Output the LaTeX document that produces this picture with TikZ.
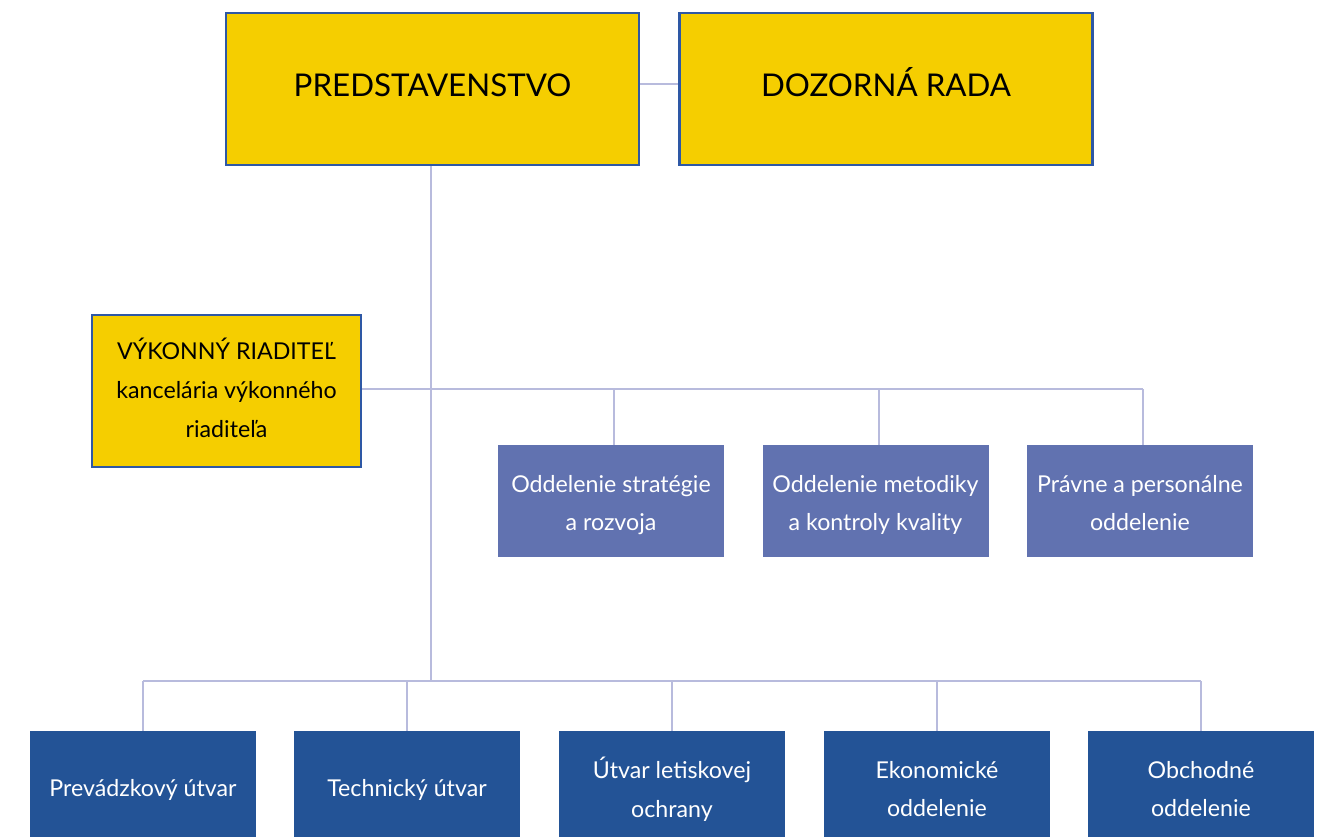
\documentclass[tikz,border=0pt]{standalone}
\usepackage{fontspec}
\setmainfont{Lato}
\definecolor{ylw}{HTML}{F5CE00}
\definecolor{bord}{HTML}{2E58A5}
\definecolor{lnk}{HTML}{B8BBDD}
\definecolor{purp}{HTML}{6172B0}
\definecolor{dblue}{HTML}{235396}
\begin{document}
\begin{tikzpicture}[x=0.75pt,y=-0.75pt,
  topbox/.style={draw=bord,line width=1.6pt,fill=ylw,minimum width=309.75pt,minimum height=114pt,inner sep=0pt},
  execbox/.style={draw=bord,line width=1.6pt,fill=ylw,minimum width=201.75pt,minimum height=114pt,inner sep=0pt},
  midbox/.style={fill=purp,minimum width=169.5pt,minimum height=84pt,inner sep=0pt},
  botbox/.style={fill=dblue,minimum width=169.5pt,minimum height=79.5pt,inner sep=0pt},
  toptext/.style={inner sep=0pt,text height=16.9pt,text depth=0pt,font=\fontsize{23.5}{28}\selectfont},
  blacktext/.style={inner sep=0pt,align=center,font=\fontsize{17.4}{29}\selectfont},
  whitetext/.style={blacktext,text=white},
  link/.style={draw=lnk,line width=1.8pt}]
\useasboundingbox (0,0) rectangle (1325,837);
\node[topbox] (pred) at (432.5,89) {};
\node[toptext] (predt) at (432.5,85) {PREDSTAVENSTVO};
\node[topbox] (dozor) at (886,89) {};
\node[toptext] (dozort) at (886,85) {DOZORNÁ RADA};
\node[execbox] (vyk) at (226.5,391) {};
\node[blacktext] (vykt) at (226.5,388) {VÝKONNÝ RIADITEĽ\\kancelária výkonného\\riaditeľa};
\node[midbox] (s1) at (611,501) {};
\node[whitetext] (s1t) at (611,505) {Oddelenie stratégie\\a rozvoja};
\node[midbox] (s2) at (875.5,501) {};
\node[whitetext] (s2t) at (875.5,505) {Oddelenie metodiky\\a kontroly kvality};
\node[midbox] (s3) at (1140,501) {};
\node[whitetext] (s3t) at (1140,503) {Právne a personálne\\oddelenie};
\node[botbox] (b1) at (143,784) {};
\node[whitetext] (b1t) at (143,790) {Prevádzkový útvar};
\node[botbox] (b2) at (407,784) {};
\node[whitetext] (b2t) at (407,790) {Technický útvar};
\node[botbox] (b3) at (672,784) {};
\node[whitetext] (b3t) at (672,789) {Útvar letiskovej\\ochrany};
\node[botbox] (b4) at (937,784) {};
\node[whitetext] (b4t) at (937,789) {Ekonomické\\oddelenie};
\node[botbox] (b5) at (1201,784) {};
\node[whitetext] (b5t) at (1201,789) {Obchodné\\oddelenie};
\coordinate (j1) at (431,389);
\coordinate (j2) at (431,681);
\coordinate (r1) at (1143,389);
\draw[link] (pred.east |- 0,84) -- (dozor.west |- 0,84);
\draw[link] (pred.south -| j1) -- (j2);
\draw[link] (vyk.east |- j1) -- (r1);
\draw[link] (s1.north -| 614,0) -- (614,389);
\draw[link] (s2.north -| 879,0) -- (879,389);
\draw[link] (s3.north -| r1) -- (r1);
\draw[link] (b1.north |- j2) -- (b5.north |- j2);
\foreach \b in {b1,b2,b3,b4,b5} \draw[link] (\b.north) -- (\b.north |- j2);
\end{tikzpicture}
\end{document}
